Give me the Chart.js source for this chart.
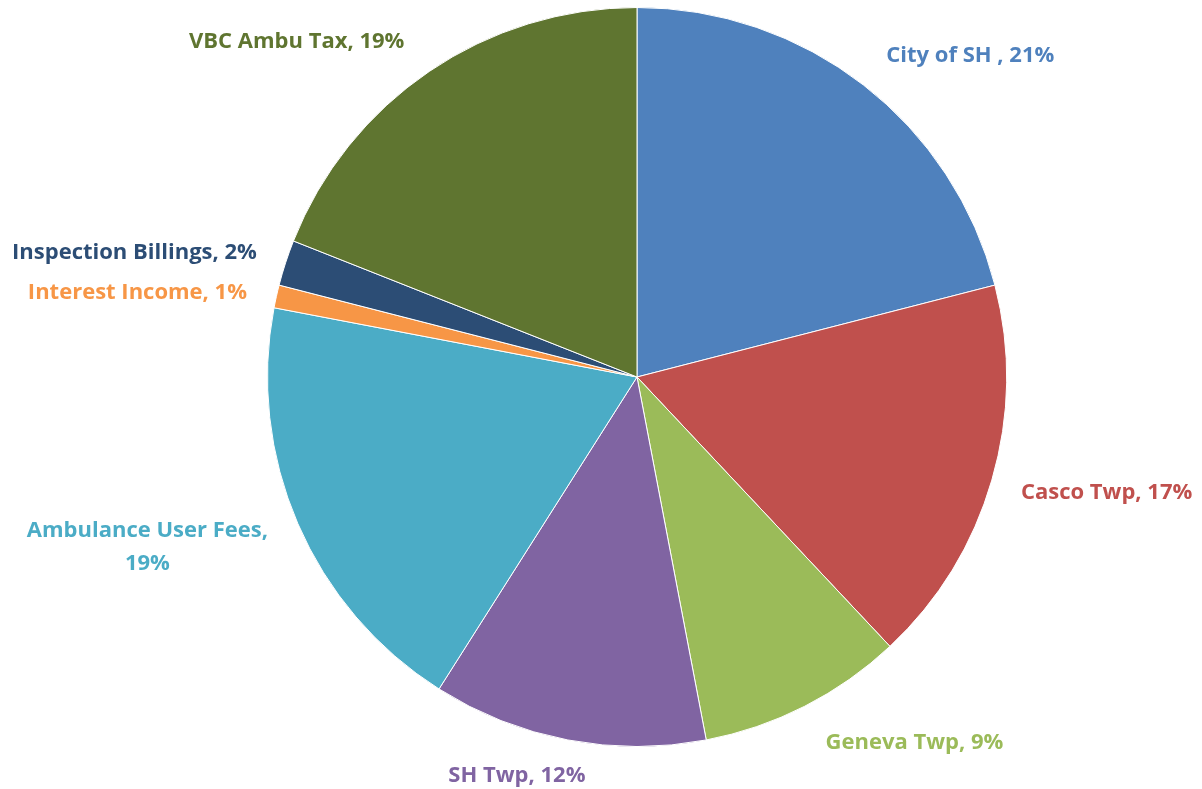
<!DOCTYPE html>
<html>
<head>
<meta charset="utf-8">
<script src="https://cdn.jsdelivr.net/npm/chart.js@4.4.1/dist/chart.umd.min.js"></script>
<style>
  html, body { margin: 0; padding: 0; background: #ffffff; }
  #wrap { width: 1202px; height: 789px; }
</style>
</head>
<body>
<div id="wrap"><canvas id="c" width="1202" height="789"></canvas></div>
<script>
// ---- Data ----
const categories = ["City of SH ", "Casco Twp", "Geneva Twp", "SH Twp", "Ambulance User Fees", "Interest Income", "Inspection Billings", "VBC Ambu Tax"];
const shares = [21, 17, 9, 12, 19, 1, 2, 19];
const percentLabels = ["21%", "17%", "9%", "12%", "19%", "1%", "2%", "19%"];

// ---- Styles ----
const sliceColors = ["#4F81BD", "#C0504D", "#9BBB59", "#8064A2", "#4BACC6", "#F79646", "#2C4D75", "#5F7530"];
// label anchor offsets, in units of the pie's outer radius from its centre
const labelOffsets = [
  [0.902, -0.870], [1.271, 0.314], [0.751, 0.989], [-0.325, 1.079],
  [-1.325, 0.461], [-1.352, -0.228], [-1.360, -0.336], [-0.921, -0.908]
];
const labelWrap = [false, false, false, false, true, false, false, false];

const labelPlugin = {
  id: 'sliceLabels',
  afterDatasetsDraw(chart) {
    const ctx = chart.ctx;
    const meta = chart.getDatasetMeta(0);
    ctx.save();
    ctx.font = 'bold 22px "Open Sans", Lato, sans-serif';
    ctx.textAlign = 'center';
    ctx.textBaseline = 'middle';
    meta.data.forEach((arc, i) => {
      const r = arc.outerRadius;
      const x = arc.x + labelOffsets[i][0] * r;
      const y = arc.y + labelOffsets[i][1] * r;
      ctx.fillStyle = sliceColors[i];
      const lines = labelWrap[i]
        ? [categories[i] + ",", percentLabels[i]]
        : [categories[i] + ", " + percentLabels[i]];
      const lh = 33;
      lines.forEach((ln, k) => {
        ctx.fillText(ln, x, y + (k - (lines.length - 1) / 2) * lh);
      });
    });
    ctx.restore();
  }
};

new Chart(document.getElementById('c'), {
  type: 'pie',
  data: {
    labels: categories,
    datasets: [{
      data: shares,
      backgroundColor: sliceColors,
      borderColor: '#ffffff',
      borderWidth: 1
    }]
  },
  options: {
    responsive: false,
    animation: false,
    layout: { padding: { top: 7, bottom: 42, left: 72, right: 0 } },
    plugins: {
      legend: { display: false },
      tooltip: { enabled: false }
    }
  },
  plugins: [labelPlugin]
});
</script>
</body>
</html>
